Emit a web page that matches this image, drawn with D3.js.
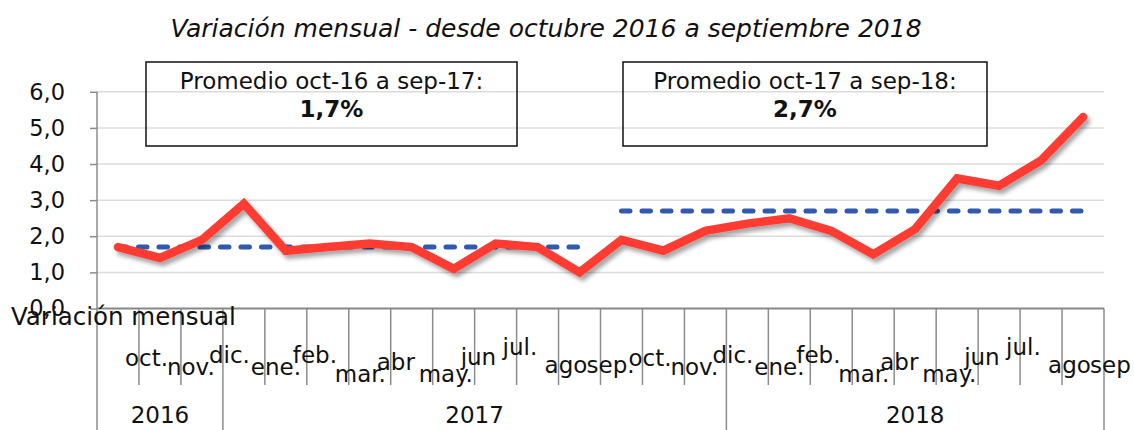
<!DOCTYPE html>
<html>
<head>
    <title>Variación mensual</title>
    <meta charset="utf-8">
    <style>
        body { margin: 0; background: #fff; }
        text { font-family: "DejaVu Sans", sans-serif; fill: #111; }
    </style>
</head>
<body>
<script src="https://d3js.org/d3.v7.min.js"></script>
<script>
    // Data
    const months = ['oct.', 'nov.', 'dic.', 'ene.', 'feb.', 'mar.', 'abr', 'may.', 'jun', 'jul.', 'ago', 'sep.',
        'oct.', 'nov.', 'dic.', 'ene.', 'feb.', 'mar.', 'abr', 'may.', 'jun', 'jul.', 'ago', 'sep'];
    const values = [1.7, 1.4, 1.9, 2.9, 1.6, 1.7, 1.8, 1.7, 1.1, 1.8, 1.7, 1.0,
        1.9, 1.6, 2.15, 2.35, 2.5, 2.15, 1.5, 2.2, 3.6, 3.4, 4.1, 5.3];
    const years = ['2016', '2017', '2018'];
    const yearCounts = [3, 12, 9];
    const averages = [1.7, 2.7];
    const averageRanges = [[0, 11], [12, 23]];
    const averageTitles = ['Promedio oct-16 a sep-17:', 'Promedio oct-17 a sep-18:'];
    const averageLabels = ['1,7%', '2,7%'];
    const yTicks = [0, 1, 2, 3, 4, 5, 6];

    const SIZES = {
        WIDTH: 1134,
        HEIGHT: 430,
        LEFT: 97,
        RIGHT: 1104,
        TOP: 91.8,
        ZERO: 308.5
    };
    // Excel drops the month labels at uneven heights (baseline per month of the year)
    const monthBaseline = [366, 375, 363, 375, 363, 382, 370, 382, 365, 355, 373, 373];
    // The two annotation boxes
    const boxes = [{x: 146, w: 371}, {x: 623, w: 364}];

    const comma = d3.formatLocale({decimal: ',', thousands: '.', grouping: [3], currency: ['', '']}).format('.1f');

    const x = d3.scaleBand().domain(d3.range(months.length)).range([SIZES.LEFT, SIZES.RIGHT]);
    const y = d3.scaleLinear().domain([0, 6]).range([SIZES.ZERO, SIZES.TOP]);
    const cx = i => x(i) + x.bandwidth() / 2;

    const svg = d3.select('body').append('svg')
        .attr('width', SIZES.WIDTH)
        .attr('height', SIZES.HEIGHT);

    const defs = svg.append('defs');
    defs.append('filter').attr('id', 'shadow')
        .attr('x', '-10%').attr('y', '-20%').attr('width', '120%').attr('height', '140%')
        .append('feDropShadow')
        .attr('dx', 3).attr('dy', 4).attr('stdDeviation', 2)
        .attr('flood-color', '#000').attr('flood-opacity', 0.35);

    // Title
    svg.append('text')
        .attr('x', 546).attr('y', 37)
        .attr('text-anchor', 'middle')
        .style('font-style', 'italic')
        .style('font-size', '25px')
        .text('Variación mensual - desde octubre 2016 a septiembre 2018');

    // Gridlines
    svg.append('g')
        .selectAll('line')
        .data(yTicks.filter(d => d > 0))
        .join('line')
        .attr('x1', SIZES.LEFT).attr('x2', SIZES.RIGHT)
        .attr('y1', d => y(d)).attr('y2', d => y(d))
        .attr('stroke', '#dcdcdc').attr('stroke-width', 1.5);

    // Y axis
    const yAxis = svg.append('g')
        .attr('transform', `translate(${SIZES.LEFT},0)`)
        .call(d3.axisLeft(y).tickValues(yTicks).tickSize(7).tickPadding(25).tickFormat(comma));
    yAxis.select('.domain').remove();
    yAxis.selectAll('.tick line').attr('stroke', '#8c8c8c').attr('stroke-width', 1.5);
    yAxis.selectAll('.tick text')
        .style('font-family', '"DejaVu Sans", sans-serif')
        .style('font-size', '22.5px')
        .attr('fill', '#111');

    // Category ticks below the axis
    const bounds = d3.range(months.length + 1);
    const yearBounds = d3.cumsum([0].concat(yearCounts));
    svg.append('g')
        .selectAll('line')
        .data(bounds)
        .join('line')
        .attr('x1', i => SIZES.LEFT + i * x.step())
        .attr('x2', i => SIZES.LEFT + i * x.step())
        .attr('y1', i => (i === 0 ? SIZES.TOP : SIZES.ZERO))
        .attr('y2', i => (yearBounds.includes(i) ? SIZES.HEIGHT : 385))
        .attr('stroke', '#8c8c8c').attr('stroke-width', 1.5);

    // Zero line
    svg.append('line')
        .attr('x1', SIZES.LEFT).attr('x2', SIZES.RIGHT)
        .attr('y1', y(0)).attr('y2', y(0))
        .attr('stroke', '#878787').attr('stroke-width', 2);

    // Month labels
    svg.append('g')
        .selectAll('text')
        .data(months)
        .join('text')
        .attr('x', (d, i) => cx(i) + 7)
        .attr('y', (d, i) => monthBaseline[i % 12])
        .style('font-size', '23px')
        .text(d => d);

    // Year labels
    svg.append('g')
        .selectAll('text')
        .data(years)
        .join('text')
        .attr('x', (d, i) => SIZES.LEFT + (yearBounds[i] + yearBounds[i + 1]) / 2 * x.step())
        .attr('y', 423)
        .attr('text-anchor', 'middle')
        .style('font-size', '23px')
        .text(d => d);

    // Series name under the axis
    svg.append('text')
        .attr('x', 11).attr('y', 325)
        .style('font-size', '24.5px')
        .text('Variación mensual');

    // Average lines
    svg.append('g')
        .selectAll('line')
        .data(averages)
        .join('line')
        .attr('x1', (d, i) => cx(averageRanges[i][0]))
        .attr('x2', (d, i) => cx(averageRanges[i][1]))
        .attr('y1', d => y(d)).attr('y2', d => y(d))
        .attr('stroke', '#3159ad').attr('stroke-width', 5)
        .attr('stroke-linecap', 'round')
        .attr('stroke-dasharray', '8.5,12');

    // Monthly series
    const line = d3.line().x((d, i) => cx(i)).y(d => y(d));
    svg.append('path')
        .datum(values)
        .attr('d', line)
        .attr('fill', 'none')
        .attr('stroke', '#ff3b33')
        .attr('stroke-width', 8.5)
        .attr('stroke-linecap', 'round')
        .attr('stroke-linejoin', 'miter')
        .attr('filter', 'url(#shadow)');

    // Annotation boxes
    const box = svg.append('g')
        .selectAll('g')
        .data(boxes)
        .join('g');
    box.append('rect')
        .attr('x', d => d.x).attr('y', 62)
        .attr('width', d => d.w).attr('height', 84)
        .attr('fill', 'none').attr('stroke', '#111').attr('stroke-width', 1.5);
    box.append('text')
        .attr('x', d => d.x + d.w / 2).attr('y', 89)
        .attr('text-anchor', 'middle')
        .style('font-size', '23px')
        .text((d, i) => averageTitles[i]);
    box.append('text')
        .attr('x', d => d.x + d.w / 2).attr('y', 117)
        .attr('text-anchor', 'middle')
        .style('font-size', '23px')
        .style('font-weight', 'bold')
        .text((d, i) => averageLabels[i]);
</script>
</body>
</html>
